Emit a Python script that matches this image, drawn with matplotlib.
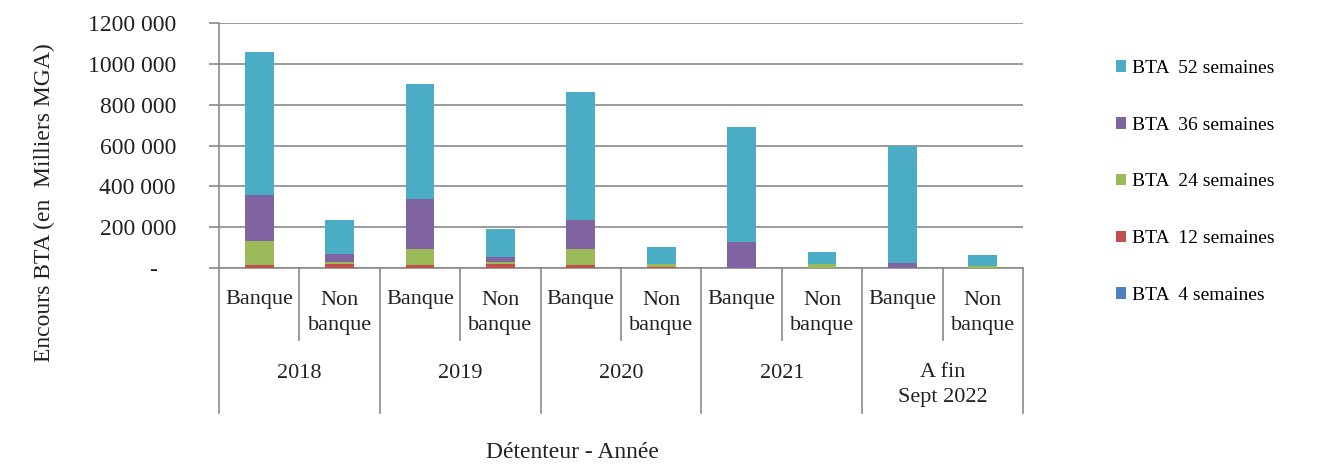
import matplotlib
matplotlib.use("Agg")
import matplotlib.pyplot as plt
import matplotlib.transforms as mtransforms
from matplotlib.patches import Patch
import numpy as np

plt.rcParams['font.family'] = ['Liberation Serif', 'DejaVu Serif']

years = ["2018", "2019", "2020", "2021", "A fin\nSept 2022"]
holders = ["Banque", "Non\nbanque"]
series_names = ["BTA  4 semaines", "BTA  12 semaines", "BTA  24 semaines",
                "BTA  36 semaines", "BTA  52 semaines"]
colors = ["#4F81BD", "#C0504D", "#9BBB59", "#8064A2", "#4BACC6"]

# order: 2018 B, 2018 NB, 2019 B, 2019 NB, ... 2022 B, 2022 NB
bta4 = [0, 0, 0, 0, 0, 0, 0, 0, 0, 0]
bta12 = [15000, 20000, 15000, 20000, 15000, 5000, 0, 3000, 0, 0]
bta24 = [118000, 12000, 79000, 12000, 79000, 15000, 0, 18000, 0, 12000]
bta36 = [225000, 38000, 244000, 22000, 142000, 0, 130000, 0, 25000, 0]
bta52 = [700000, 166000, 562000, 136000, 627000, 85000, 562000, 58000, 574000, 53000]
series = [bta4, bta12, bta24, bta36, bta52]

yticks = [0, 200000, 400000, 600000, 800000, 1000000, 1200000]
ytick_labels = ["-   ", "200 000", "400 000", "600 000", "800 000", "1000 000", "1200 000"]

W, H = 1329, 469
fig = plt.figure(figsize=(W / 100, H / 100), dpi=100)
ax = fig.add_axes([219 / W, 1 - 268.3 / H, (1023 - 219) / W, (268.3 - 22.7) / H])

x = np.arange(len(bta52))
bottom = np.zeros(len(x))
handles = []
for vals, name, c in zip(series, series_names, colors):
    ax.bar(x, vals, width=0.36, bottom=bottom, color=c, label=name, zorder=3)
    bottom += np.array(vals)
    handles.append(Patch(facecolor=c, label=name))

ax.set_xlim(-0.5, 9.5)
ax.set_ylim(0, 1200000)
ax.set_yticks(yticks)
ax.set_yticklabels(ytick_labels, fontsize=17, color="#222222")
ax.yaxis.grid(True, color="#8a8a8a", linewidth=1.2, zorder=0)
ax.set_axisbelow(True)
for s in ["top", "right"]:
    ax.spines[s].set_visible(False)
ax.spines["left"].set_color("#8a8a8a")
ax.spines["left"].set_linewidth(1.2)
ax.spines["bottom"].set_color("#8a8a8a")
ax.spines["bottom"].set_linewidth(1.2)
ax.tick_params(axis="y", length=7, width=1.2, color="#8a8a8a", pad=24)
ax.set_xticks([])

# multi-level category axis
trans = mtransforms.blended_transform_factory(ax.transData, ax.transAxes)
ah = (268.3 - 22.7)
def fy(px_below):
    return -px_below / ah

for k in range(5):
    ax.plot([2 * k + 0.5] * 2, [0, fy(72)], transform=trans, color="#8a8a8a",
            lw=1.2, clip_on=False)
for k in range(6):
    ax.plot([2 * k - 0.5] * 2, [0, fy(145)], transform=trans, color="#8a8a8a",
            lw=1.2, clip_on=False)

for i in range(len(x)):
    lab = holders[i % 2]
    if i % 2 == 0:
        ax.text(x[i], fy(30.7), lab, transform=trans, ha="center", va="center",
                fontsize=16, color="#222222")
    else:
        ax.text(x[i], fy(44.7), lab, transform=trans, ha="center", va="center",
                fontsize=16, color="#222222", linespacing=1.4)

for k, yl in enumerate(years):
    if "\n" in yl:
        ax.text(2 * k + 0.5, fy(95), yl, transform=trans, ha="center", va="top",
                fontsize=16, color="#222222", linespacing=1.4)
    else:
        ax.text(2 * k + 0.5, fy(104.7), yl, transform=trans, ha="center", va="center",
                fontsize=16, color="#222222")

fig.text(572 / W, 1 - 452 / H, "Détenteur - Année", ha="center", va="center",
         fontsize=17, color="#222222")
fig.text(44 / W, 1 - 203 / H, "Encours BTA (en  Milliers MGA)", ha="center",
         va="center", rotation=90, fontsize=17, color="#222222")

fig.legend(handles=handles[::-1], loc="upper left",
           bbox_to_anchor=(1108 / W, 1 - 52 / H), frameon=False,
           fontsize=14, handlelength=0.55, handleheight=0.55, handletextpad=0.3,
           labelspacing=2.05, borderaxespad=0)

fig.savefig("out.png", dpi=100)
